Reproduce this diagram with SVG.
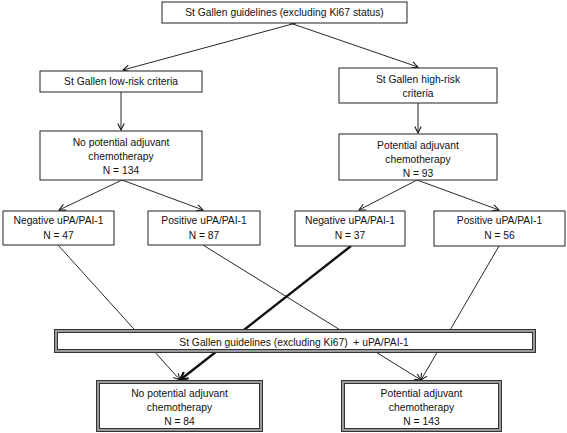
<svg xmlns="http://www.w3.org/2000/svg" width="567" height="433" viewBox="0 0 567 433">
<style>
.box{fill:#fff;stroke:#222;stroke-width:1}
.dbl-o{fill:#fff;stroke:#333;stroke-width:4}
.dbl-i{fill:none;stroke:#9a9a9a;stroke-width:2}
.t{font-family:"Liberation Sans",Arial,sans-serif;font-size:10.3px;fill:#111;text-anchor:middle}
.ln{stroke:#111;stroke-width:0.9;fill:none}
.thick{stroke:#111;stroke-width:2.4;fill:none}
</style>
<defs>
<marker id="ah" viewBox="0 0 10 10" refX="9" refY="5" markerWidth="8" markerHeight="8" markerUnits="userSpaceOnUse" orient="auto">
<path d="M1,1 L9,5 L1,9" fill="none" stroke="#111" stroke-width="1.3"/>
</marker>
<marker id="ahT" viewBox="0 0 10 10" refX="9" refY="5" markerWidth="10" markerHeight="10" markerUnits="userSpaceOnUse" orient="auto">
<path d="M1,1 L9,5 L1,9" fill="none" stroke="#111" stroke-width="2.2"/>
</marker>
</defs>
<g id="connectors">
<line class="ln" x1="296" y1="23" x2="123" y2="70" marker-end="url(#ah)"/>
<line class="ln" x1="290" y1="23" x2="418" y2="67" marker-end="url(#ah)"/>
<line class="ln" x1="121" y1="92" x2="121" y2="130" marker-end="url(#ah)"/>
<line class="ln" x1="418" y1="103" x2="418" y2="133" marker-end="url(#ah)"/>
<line class="ln" x1="122" y1="180" x2="59" y2="210" marker-end="url(#ah)"/>
<line class="ln" x1="122" y1="180" x2="203" y2="210" marker-end="url(#ah)"/>
<line class="ln" x1="417" y1="180" x2="359" y2="210" marker-end="url(#ah)"/>
<line class="ln" x1="417" y1="180" x2="499" y2="210" marker-end="url(#ah)"/>
<line class="ln" x1="58" y1="245" x2="180" y2="380" marker-end="url(#ah)"/>
<line class="ln" x1="203" y1="245" x2="421" y2="380" marker-end="url(#ah)"/>
<line class="thick" x1="351" y1="246" x2="180" y2="380" marker-end="url(#ahT)"/>
<line class="ln" x1="499" y1="246" x2="421" y2="380" marker-end="url(#ah)"/>
</g>
<g id="top">
<rect class="box" x="162" y="2" width="245" height="21"/>
<text class="t" x="284.5" y="16">St Gallen guidelines (excluding Ki67 status)</text>
</g>
<g id="lowrisk">
<rect class="box" x="40" y="71" width="162" height="21"/>
<text class="t" x="121" y="85">St Gallen low-risk criteria</text>
</g>
<g id="highrisk">
<rect class="box" x="339" y="68" width="158" height="35"/>
<text class="t" x="418" y="83">St Gallen high-risk</text>
<text class="t" x="418" y="97">criteria</text>
</g>
<g id="nopot1">
<rect class="box" x="40" y="131" width="162" height="49"/>
<text class="t" x="121" y="146">No potential adjuvant</text>
<text class="t" x="121" y="160">chemotherapy</text>
<text class="t" x="121" y="174">N = 134</text>
</g>
<g id="pot1">
<rect class="box" x="339" y="134" width="158" height="46"/>
<text class="t" x="418" y="149">Potential adjuvant</text>
<text class="t" x="418" y="163">chemotherapy</text>
<text class="t" x="418" y="177">N = 93</text>
</g>
<g id="neg47">
<rect class="box" x="3" y="211" width="111" height="34"/>
<text class="t" x="58.5" y="224">Negative uPA/PAI-1</text>
<text class="t" x="58.5" y="239">N = 47</text>
</g>
<g id="pos87">
<rect class="box" x="148" y="211" width="112" height="34"/>
<text class="t" x="204" y="224">Positive uPA/PAI-1</text>
<text class="t" x="204" y="239">N = 87</text>
</g>
<g id="neg37">
<rect class="box" x="295" y="211" width="110" height="35"/>
<text class="t" x="350" y="224">Negative uPA/PAI-1</text>
<text class="t" x="350" y="239">N = 37</text>
</g>
<g id="pos56">
<rect class="box" x="434" y="211" width="131" height="35"/>
<text class="t" x="499.5" y="224">Positive uPA/PAI-1</text>
<text class="t" x="499.5" y="239">N = 56</text>
</g>
<g id="combined">
<rect class="dbl-o" x="56" y="331" width="478" height="20"/>
<rect class="dbl-i" x="56" y="331" width="478" height="20"/>
<text class="t" x="294" y="346" xml:space="preserve">St Gallen guidelines (excluding Ki67)  + uPA/PAI-1</text>
</g>
<g id="nopot2">
<rect class="dbl-o" x="98" y="382" width="163" height="48"/>
<rect class="dbl-i" x="98" y="382" width="163" height="48"/>
<text class="t" x="179.5" y="397">No potential adjuvant</text>
<text class="t" x="179.5" y="411">chemotherapy</text>
<text class="t" x="179.5" y="425">N = 84</text>
</g>
<g id="pot2">
<rect class="dbl-o" x="343" y="382" width="157" height="48"/>
<rect class="dbl-i" x="343" y="382" width="157" height="48"/>
<text class="t" x="421.5" y="397">Potential adjuvant</text>
<text class="t" x="421.5" y="411">chemotherapy</text>
<text class="t" x="421.5" y="425">N = 143</text>
</g>
</svg>
